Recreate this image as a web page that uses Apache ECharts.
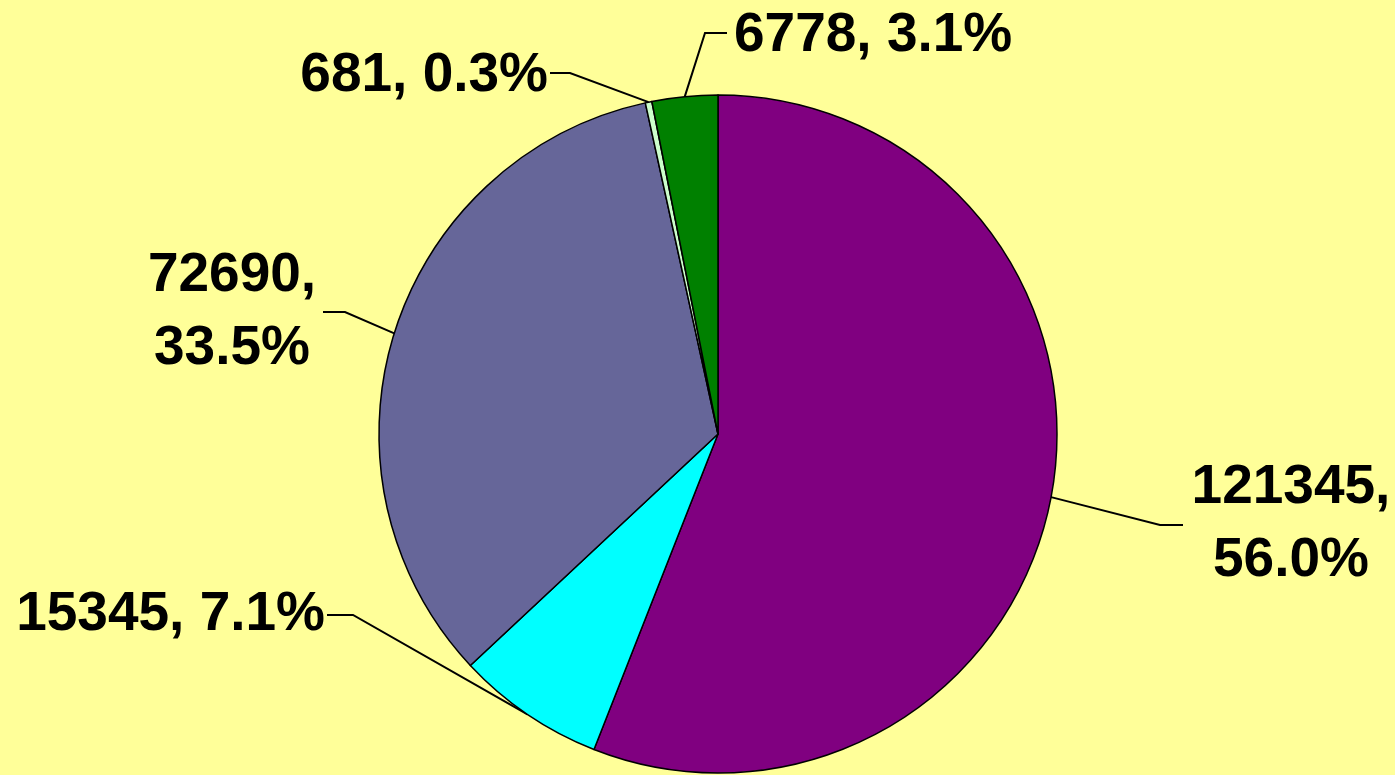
<!DOCTYPE html>
<html>
<head>
<meta charset="utf-8">
<script src="https://cdn.jsdelivr.net/npm/echarts@6/dist/echarts.min.js"></script>
<style>
  html, body { margin: 0; padding: 0; background: #ffff99; }
  #chart { width: 1395px; height: 775px; }
</style>
</head>
<body>
<div id="chart"></div>
<script>
const values = [121345, 15345, 72690, 681, 6778]
const sliceColors = ['#800080', '#00ffff', '#666699', '#ccffcc', '#008000']
const labelTexts = ['121345,\n56.0%', '15345, 7.1%', '72690,\n33.5%', '681, 0.3%', '6778, 3.1%']

// where each label sits, plus the elbow of its leader line
const labelSpots = [
  { x: 1291, y: 524, align: 'center', elbow: [1160, 525], end: [1183, 525] },
  { x: 325, y: 615, align: 'right', elbow: [353, 615], end: [327, 615] },
  { x: 232, y: 312, align: 'center', elbow: [345, 312], end: [323, 312] },
  { x: 548, y: 76, align: 'right', elbow: [570, 73], end: [550, 73] },
  { x: 734, y: 36, align: 'left', elbow: [705, 33], end: [727, 33] }
]

const chart = echarts.init(document.getElementById('chart'))

chart.setOption({
  backgroundColor: '#ffff99',
  animation: false,
  series: [
    {
      type: 'pie',
      center: [718, 434],
      radius: [0, 339],
      startAngle: 90,
      clockwise: true,
      avoidLabelOverlap: false,
      data: values.map((v, i) => ({
        value: v,
        itemStyle: { color: sliceColors[i] },
        label: { formatter: labelTexts[i] }
      })),
      itemStyle: { borderColor: '#000', borderWidth: 1.5 },
      label: {
        show: true,
        position: 'outside',
        color: '#000',
        fontFamily: 'Liberation Sans, Arial, sans-serif',
        fontWeight: 'bold',
        fontSize: 55,
        lineHeight: 73
      },
      labelLine: {
        show: true,
        length: 20,
        length2: 20,
        lineStyle: { color: '#000', width: 2 }
      },
      emphasis: { disabled: true },
      labelLayout: (params) => {
        const s = labelSpots[params.dataIndex]
        const start = params.labelLinePoints ? params.labelLinePoints[0] : s.elbow
        return {
          x: s.x,
          y: s.y,
          align: s.align,
          verticalAlign: 'middle',
          labelLinePoints: [start, s.elbow, s.end]
        }
      }
    }
  ]
})
</script>
</body>
</html>
